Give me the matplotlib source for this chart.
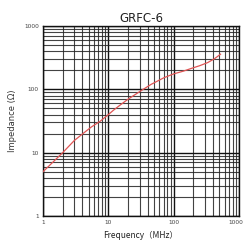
import matplotlib
matplotlib.use("Agg")
import matplotlib.pyplot as plt
import matplotlib.transforms as mtransforms
from matplotlib.ticker import LogLocator, FixedLocator, NullFormatter

freq_mhz = [1, 2, 3, 4.2, 5.5, 7.5, 10, 12, 15.3, 20, 31, 45, 71, 100, 140, 182, 250, 330, 420, 520]
impedance = [5.0, 10, 15.5, 20.5, 25.5, 31.4, 40, 47, 57, 70, 94, 120, 153, 176, 194, 213, 237, 265, 305, 360]
x_ticks = [1, 10, 100, 1000]
x_labels = ["1", "10", "100", "1000"]
y_ticks = [1, 10, 100, 1000]
y_labels = ["1", "10", "100", "1000"]

fig = plt.figure(figsize=(2.43, 2.44), dpi=100)
ax = fig.add_axes([0.177, 0.115, 0.807, 0.778])
ax.set_xscale("log")
ax.set_yscale("log")
ax.set_xlim(1, 1000)
ax.set_ylim(1, 1000)

ax.xaxis.set_major_locator(FixedLocator(x_ticks))
ax.yaxis.set_major_locator(FixedLocator(y_ticks))
ax.set_xticklabels(x_labels)
ax.set_yticklabels(y_labels)
ax.xaxis.set_minor_locator(LogLocator(base=10, subs=range(2, 10), numticks=20))
ax.yaxis.set_minor_locator(LogLocator(base=10, subs=range(2, 10), numticks=20))
ax.xaxis.set_minor_formatter(NullFormatter())
ax.yaxis.set_minor_formatter(NullFormatter())

ax.grid(True, which="major", color="#111111", linewidth=1.0)
ax.grid(True, which="minor", color="#222222", linewidth=0.8, alpha=0.85)
ax.tick_params(which="both", length=0, labelsize=4.2, labelcolor="#444444", pad=3)
for s in ax.spines.values():
    s.set_color("#111111")
    s.set_linewidth(1.0)
last = ax.get_xticklabels()[-1]
last.set_transform(last.get_transform() +
                   mtransforms.ScaledTranslation(-3 / 100, 0, fig.dpi_scale_trans))

ax.plot(freq_mhz, impedance, color="#e05555", linewidth=0.9, zorder=5)

ax.set_title("GRFC-6", fontsize=8.5, color="#222222", pad=3)
ax.set_xlabel("Frequency（MHz）", fontsize=6, color="#222222", labelpad=4,
              family=["Noto Sans CJK JP", "DejaVu Sans"])
ax.set_ylabel("Impedance (Ω)", fontsize=6, color="#333333", labelpad=5)

fig.savefig("out.png", dpi=100)
